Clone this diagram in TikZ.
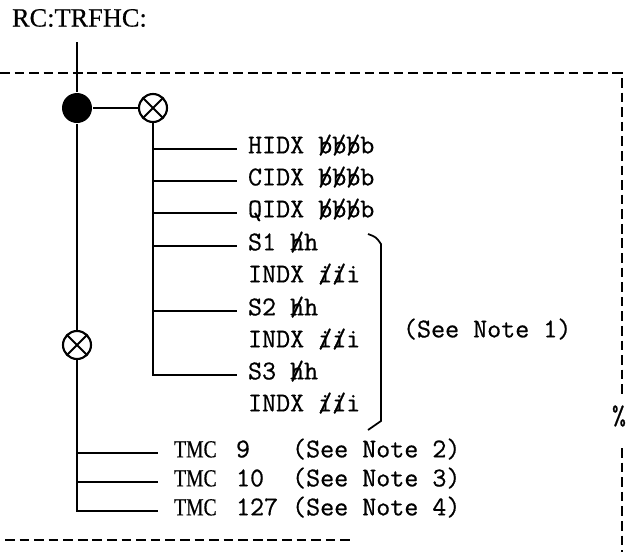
\documentclass[tikz,border=0pt]{standalone}
\usepackage{fontspec}
\newfontfamily\serifrm[FakeBold=0.4]{Liberation Serif}
\newfontfamily\tmcfont[FakeStretch=0.8, FakeBold=0.4]{Liberation Serif}
\newfontfamily\typew[FakeBold=0.6]{Latin Modern Mono}
\usepackage{tikz}
\usetikzlibrary{positioning}

% letter with a slash through it
\newcommand{\struck}[1]{\ooalign{#1\cr\hidewidth/\hidewidth}}
\newcommand{\tmclabel}{\makebox[1.24cm][l]{\tmcfont\fontsize{14}{16}\selectfont TMC}}

\begin{document}
\begin{tikzpicture}[
  x=0.02cm, y=-0.02cm,
  line width=1.2pt,
  mono/.style = {font=\typew\fontsize{15.5}{18}\selectfont, anchor=west,
                 inner ysep=0pt, inner xsep=0.2cm, text height=0.7em, text depth=0.2em},
  tmc/.style  = {mono, inner xsep=0.3cm},
  dot/.style  = {circle, fill=black, inner sep=0pt, minimum size=0.6cm},
  otimes/.style = {circle, draw, inner sep=0pt, minimum size=0.56cm,
                   path picture={\draw (path picture bounding box.south west) -- (path picture bounding box.north east)
                                       (path picture bounding box.north west) -- (path picture bounding box.south east);}},
  border/.style = {line width=1pt, dash pattern=on 5.5pt off 2.8pt}
]
  \useasboundingbox (0,0) rectangle (630,552);

  \node[anchor=west, inner sep=0pt, font=\serifrm\fontsize{15}{18}\selectfont] (title) at (11,18) {RC:TRFHC:};
  \coordinate (top) at (77,42);

  \node[dot]    (dot) at (77,108)  {};
  \node[otimes] (ox)  at (153,108) {};
  \node[otimes] (oxb) at (77,345)  {};

  % index entries
  \node[mono] (hidx)   at (237,149) {HIDX \struck{b}\struck{b}\struck{b}b};
  \node[mono] (cidx)   at (237,181) {CIDX \struck{b}\struck{b}\struck{b}b};
  \node[mono] (qidx)   at (237,213) {QIDX \struck{b}\struck{b}\struck{b}b};
  \node[mono] (sone)   at (237,246) {S1 \struck{h}h};
  \node[mono] (ione)   at (237,278) {INDX \struck{i}\struck{i}i};
  \node[mono] (stwo)   at (237,311) {S2 \struck{h}h};
  \node[mono] (itwo)   at (237,343) {INDX \struck{i}\struck{i}i};
  \node[mono] (sthree) at (237,375) {S3 \struck{h}h};
  \node[mono] (ithree) at (237,407) {INDX \struck{i}\struck{i}i};
  \node[mono, inner xsep=0pt] (noteone) at (402,333) {(See Note 1)};

  % TMC entries
  \node[tmc] (tmcnine) at (158,453) {\tmclabel 9\ \ \ (See Note 2)};
  \node[tmc] (tmcten)  at (158,482) {\tmclabel 10\ \ (See Note 3)};
  \node[tmc] (tmcbig)  at (158,511) {\tmclabel 127\ (See Note 4)};

  \draw (top) -- (dot);
  \draw (dot) -- (ox);
  \draw (dot) -- (oxb);
  \draw (ox) |- (sthree.west);
  \foreach \n in {hidx, cidx, qidx, sone, stwo}
    \draw (ox |- \n.west) -- (\n.west);
  \draw (oxb) |- (tmcbig.west);
  \foreach \n in {tmcnine, tmcten}
    \draw (oxb |- \n.west) -- (\n.west);

  % bracket
  \draw[line width=1pt] (368,234) .. controls (376,237) .. (381,244) -- (381,421) -- (368,430);

  % dashed frame
  \draw[border] (0,73) -- (622,73) -- (622,395);
  \draw[border] (622,448) -- (622,552);
  \draw[border] (5,540) -- (350,540);
  \node[inner sep=0pt, font=\typew\fontsize{15.5}{18}\selectfont] (pct) at (619,416) {\%};
\end{tikzpicture}
\end{document}
